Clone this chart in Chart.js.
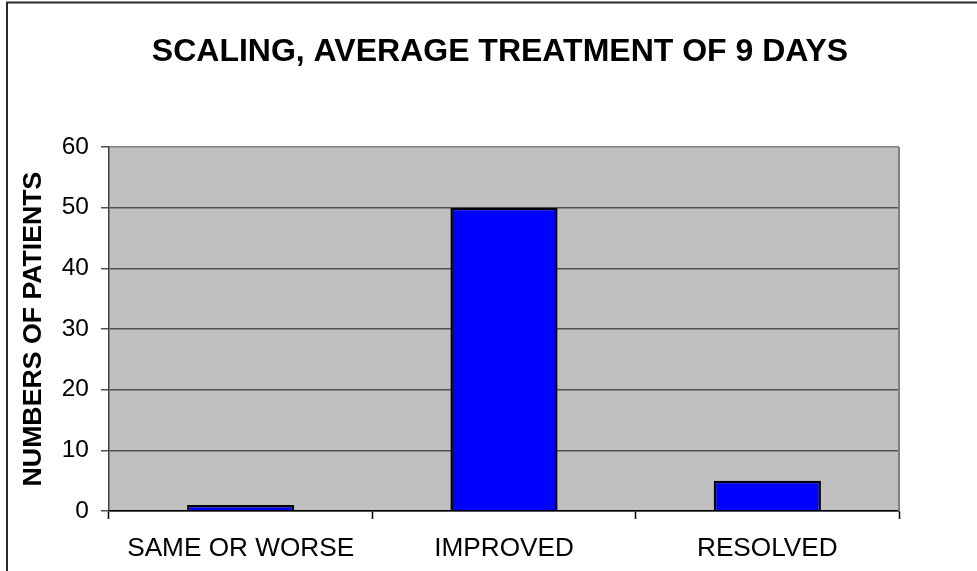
<!DOCTYPE html>
<html><head><meta charset="utf-8">
<script src="https://cdn.jsdelivr.net/npm/chart.js@4/dist/chart.umd.min.js"></script>
<style>html,body{margin:0;padding:0;background:#fff;overflow:hidden}canvas{display:block}</style>
</head><body>
<canvas id="c" width="977" height="571"></canvas>
<script>
const categories = ['SAME OR WORSE', 'IMPROVED', 'RESOLVED'];
const patients = [1, 50, 5];
const chartTitle = 'SCALING, AVERAGE TREATMENT OF 9 DAYS';
const yAxisTitle = 'NUMBERS OF PATIENTS';
const yMin = 0, yMax = 60, yStep = 10;

const FONT = "'Liberation Sans', Arial, sans-serif";

const framePlugin = {
  id: 'frame',
  beforeDraw(chart) {
    const {ctx, chartArea: a} = chart;
    ctx.save();
    ctx.fillStyle = '#ffffff';
    ctx.fillRect(0, 0, chart.width, chart.height);
    ctx.fillStyle = '#c0c0c0';
    ctx.fillRect(a.left, a.top, a.right - a.left, a.bottom - a.top);
    ctx.restore();
  },
  afterDraw(chart) {
    const {ctx, chartArea: a} = chart;
    ctx.save();
    ctx.strokeStyle = '#808080';
    ctx.lineWidth = 2;
    ctx.beginPath();
    ctx.moveTo(a.right, a.top);
    ctx.lineTo(a.right, a.bottom);
    ctx.stroke();
    ctx.strokeStyle = '#2a2a2a';
    ctx.lineWidth = 2;
    ctx.strokeRect(7, 2.5, 1100, 1100);
    ctx.restore();
  }
};

new Chart(document.getElementById('c'), {
  type: 'bar',
  data: {
    labels: categories,
    datasets: [{
      data: patients,
      backgroundColor: '#0000ff',
      borderColor: '#000000',
      borderWidth: 2.5,
      borderSkipped: 'bottom',
      categoryPercentage: 1,
      barPercentage: 0.407
    }]
  },
  options: {
    responsive: false,
    devicePixelRatio: 1,
    animation: false,
    layout: {padding: {left: 23, right: 0, top: 0, bottom: 0}},
    plugins: {
      legend: {display: false},
      tooltip: {enabled: false},
      title: {
        display: true,
        text: chartTitle,
        color: '#000',
        font: {family: FONT, size: 32, weight: 'bold'},
        padding: {top: 32.8, bottom: 75.8}
      }
    },
    scales: {
      x: {
        offset: true,
        grid: {
          offset: true,
          drawOnChartArea: false,
          drawTicks: true,
          tickLength: 8,
          tickColor: '#000',
          tickWidth: 1.5
        },
        border: {color: '#000', width: 1.5},
        ticks: {
          color: '#000',
          font: {family: FONT, size: 26.2},
          padding: 14,
          maxRotation: 0
        },
        afterFit(s) { s.height = 60; }
      },
      y: {
        min: yMin, max: yMax,
        ticks: {
          stepSize: yStep,
          color: '#000',
          font: {family: FONT, size: 24.5},
          padding: 12
        },
        grid: {
          color: c => (c.tick && c.tick.value === yMax) ? '#808080' : '#505050',
          lineWidth: 1.5,
          tickLength: 8,
          tickColor: '#505050',
          tickWidth: 1.5
        },
        border: {color: '#404040', width: 1.5},
        title: {
          display: true,
          text: yAxisTitle,
          color: '#000',
          font: {family: FONT, size: 26.7, weight: 'bold', lineHeight: 0.8},
          padding: {top: 0, bottom: 0}
        },
        afterFit(s) { s.width = 86; }
      },
      y2: {
        position: 'right',
        display: true,
        ticks: {display: false},
        grid: {display: false},
        border: {display: false},
        afterFit(s) { s.width = 78; }
      }
    }
  },
  plugins: [framePlugin]
});
</script>
</body></html>
